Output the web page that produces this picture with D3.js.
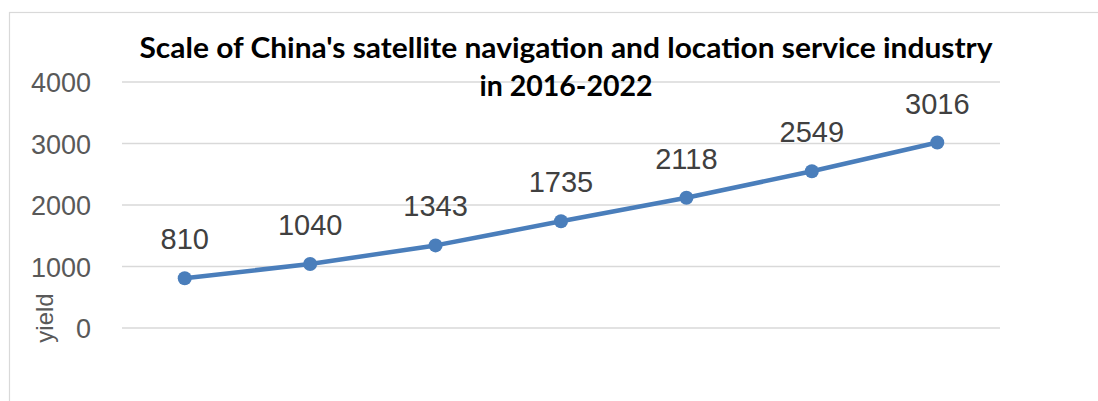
<!DOCTYPE html>
<html>
<head>
<meta charset="utf-8">
<script src="https://cdn.jsdelivr.net/npm/d3@7"></script>
<style>
  html, body { margin: 0; padding: 0; background: #fff; }
  svg { display: block; }
</style>
</head>
<body>
<svg id="chart" width="1098" height="401"></svg>
<script>
// Industry scale by year
const years = ["2016", "2017", "2018", "2019", "2020", "2021", "2022"];
const scaleValues = [810, 1040, 1343, 1735, 2118, 2549, 3016];
const yTicks = [0, 1000, 2000, 3000, 4000];
const titleLines = ["Scale of China's satellite navigation and location service industry", "in 2016-2022"];
const yAxisLabel = "yield";

const svg = d3.select("#chart");
const W = 1098, H = 401;
const plot = { left: 122, right: 1000, top: 82, bottom: 328 };

// chart frame
svg.append("rect")
  .attr("x", 9.5).attr("y", 12.5)
  .attr("width", W + 20).attr("height", H + 20)
  .attr("fill", "#fff").attr("stroke", "#d9d9d9").attr("stroke-width", 1.2);

const x = d3.scalePoint().domain(years).range([plot.left, plot.right]).padding(0.5);
const y = d3.scaleLinear().domain([0, 4000]).range([plot.bottom, plot.top]);

// horizontal gridlines
svg.append("g").selectAll("line").data(yTicks).join("line")
  .attr("x1", plot.left).attr("x2", plot.right)
  .attr("y1", d => y(d)).attr("y2", d => y(d))
  .attr("stroke", "#d9d9d9").attr("stroke-width", 1.5);

// y axis tick labels
const yAxis = d3.axisLeft(y).tickValues(yTicks).tickSize(0).tickPadding(31).tickFormat(d3.format("d"));
const gy = svg.append("g").attr("transform", `translate(${plot.left},0)`).call(yAxis);
gy.select(".domain").remove();
gy.selectAll("text")
  .attr("fill", "#595959")
  .style("font-family", "'Liberation Sans', Arial, sans-serif")
  .style("font-size", "27px")
  .attr("dy", "0.36em");

// y axis title
svg.append("text")
  .attr("transform", `translate(53,318) rotate(-90)`)
  .attr("text-anchor", "middle")
  .attr("fill", "#595959")
  .style("font-family", "'Liberation Sans', Arial, sans-serif")
  .style("font-size", "24px")
  .text(yAxisLabel);

// title
const title = svg.append("text")
  .attr("text-anchor", "middle")
  .attr("fill", "#000")
  .style("font-family", "Lato, 'Liberation Sans', sans-serif")
  .style("font-weight", "bold")
  .style("font-size", "28.5px");
title.append("tspan").attr("x", 566).attr("y", 58).attr("textLength", 853).attr("lengthAdjust", "spacingAndGlyphs").text(titleLines[0]);
title.append("tspan").attr("x", 566).attr("y", 96).text(titleLines[1]);

// series line
const pts = years.map((yr, i) => ({ yr, v: scaleValues[i] }));
svg.append("path")
  .datum(pts)
  .attr("fill", "none")
  .attr("stroke", "#4a7ebb")
  .attr("stroke-width", 4.5)
  .attr("stroke-linejoin", "round")
  .attr("d", d3.line().x(d => x(d.yr)).y(d => y(d.v)));

// markers
svg.append("g").selectAll("circle").data(pts).join("circle")
  .attr("cx", d => x(d.yr)).attr("cy", d => y(d.v))
  .attr("r", 7)
  .attr("fill", "#4a7ebb");

// data labels
svg.append("g").selectAll("text").data(pts).join("text")
  .attr("x", d => x(d.yr)).attr("y", d => y(d.v) - 29)
  .attr("text-anchor", "middle")
  .attr("fill", "#404040")
  .style("font-family", "'Liberation Sans', Arial, sans-serif")
  .style("font-size", "29px")
  .text(d => d.v);
</script>
</body>
</html>
